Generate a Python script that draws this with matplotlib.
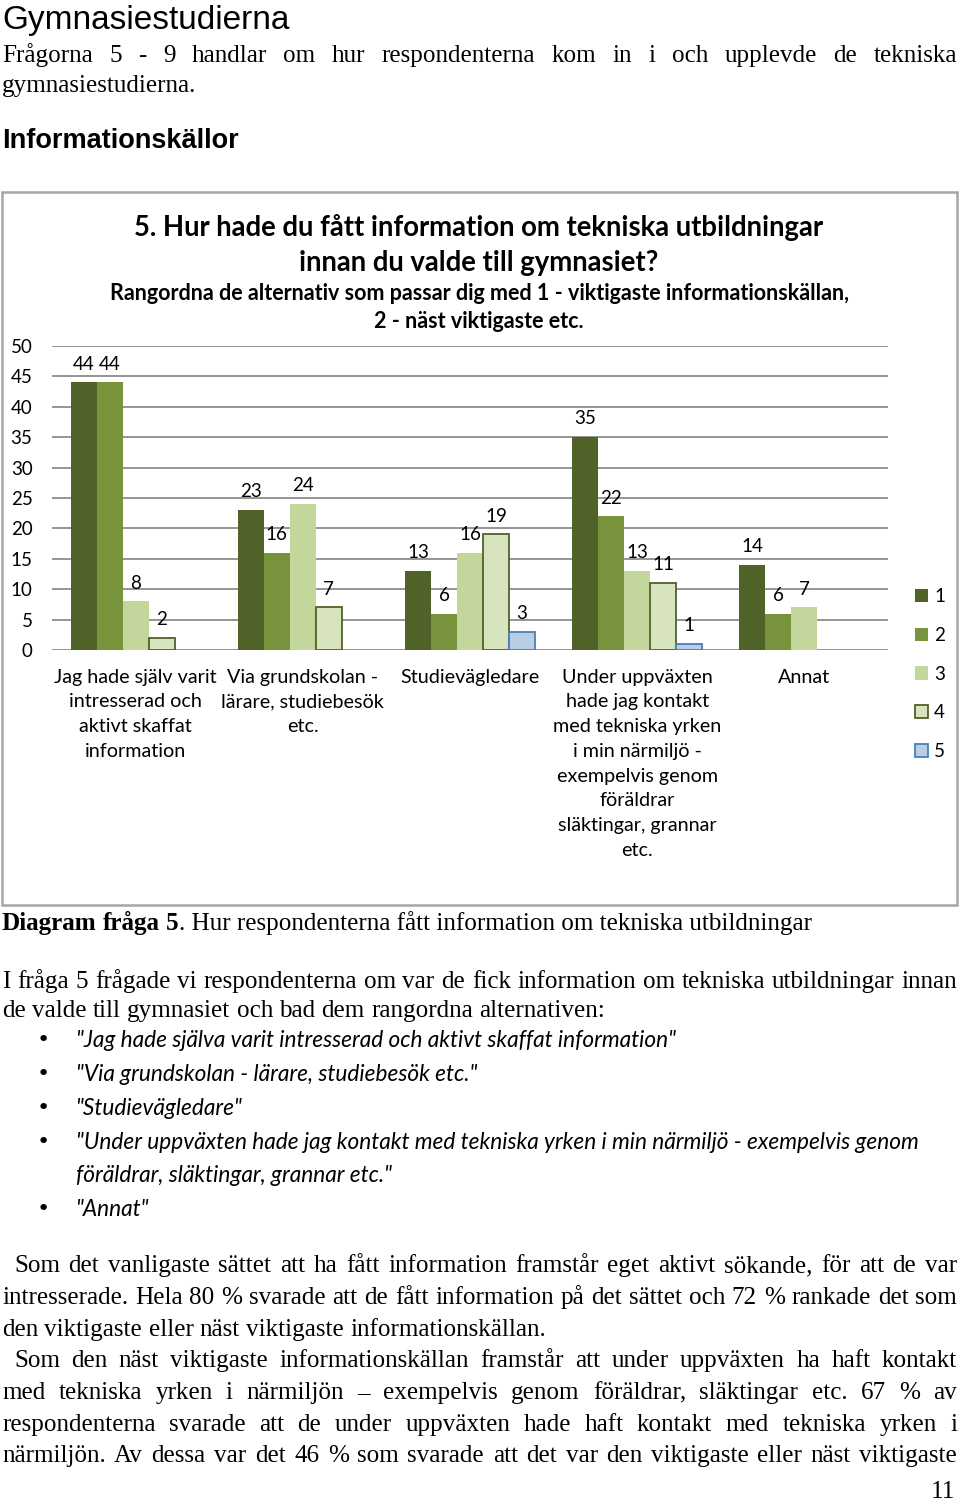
import math
import matplotlib
matplotlib.use("Agg")
import matplotlib.pyplot as plt
import numpy as np
from matplotlib.patches import Rectangle, Patch

# ---------------- data ----------------
categories = [
    "Jag hade själv varit\nintresserad och\naktivt skaffat\ninformation",
    "Via grundskolan -\nlärare, studiebesök\netc.",
    "Studievägledare",
    "Under uppväxten\nhade jag kontakt\nmed tekniska yrken\ni min närmiljö -\nexempelvis genom\nföräldrar\nsläktingar, grannar\netc.",
    "Annat",
]
series_names = ["1", "2", "3", "4", "5"]
rank1 = [44, 23, 13, 35, 14]
rank2 = [44, 16, 6, 22, 6]
rank3 = [8, 24, 16, 13, 7]
rank4 = [2, 7, 19, 11, np.nan]
rank5 = [np.nan, np.nan, 3, 1, np.nan]
yticks = [0, 5, 10, 15, 20, 25, 30, 35, 40, 45, 50]

colors = ["#4f6228", "#77933c", "#c3d69b", "#d7e4bd", "#b9cde5"]
edges = [None, None, None, "#4f6228", "#4a7ebb"]

W, H = 960, 1502
fig = plt.figure(figsize=(W / 100, H / 100), dpi=100)
renderer = fig.canvas.get_renderer()

SERIF = "Liberation Serif"
SANS = "Liberation Sans"
CAL = "Lato"


def fx(x):
    return x / W


def fy(y):
    return 1 - y / H


def twidth(s, **kw):
    t = fig.text(0, 0, s, **kw)
    w = t.get_window_extent(renderer).width
    t.remove()
    return w


def space_w(**kw):
    return twidth("x x", **kw) - twidth("xx", **kw)


def natural(text, **kw):
    words = text.split(" ")
    return sum(twidth(w, **kw) for w in words) + space_w(**kw) * (len(words) - 1)


def put_line(text, y, x0=2, x1=957, justify=False, **kw):
    words = text.split(" ")
    objs = [fig.text(0, fy(y), w, va="baseline", ha="left", **kw) for w in words]
    widths = [o.get_window_extent(renderer).width for o in objs]
    sp = space_w(**kw)
    if justify and len(words) > 1:
        gap = (x1 - x0 - sum(widths)) / (len(words) - 1)
    else:
        gap = sp
    x = x0
    for o, w in zip(objs, widths):
        o.set_x(fx(x))
        x += w + gap
    return x


# ---------------- body text ----------------
paras = [
    (["Frågorna 5 - 9 handlar om hur respondenterna kom in i och upplevde de tekniska",
      "gymnasiestudierna."], [62, 92], 2, [True, False]),
    (["I fråga 5 frågade vi respondenterna om var de fick information om tekniska utbildningar innan",
      "de valde till gymnasiet och bad dem rangordna alternativen:"], [988, 1017], 2, [True, False]),
    (["Som det vanligaste sättet att ha fått information framstår eget aktivt sökande, för att de var",
      "intresserade. Hela 80 % svarade att de fått information på det sättet och 72 % rankade det som",
      "den viktigaste eller näst viktigaste informationskällan."], [1272, 1304, 1336], 14, [True, True, False]),
    (["Som den näst viktigaste informationskällan framstår att under uppväxten ha haft kontakt",
      "med tekniska yrken i närmiljön – exempelvis genom föräldrar, släktingar etc. 67 % av",
      "respondenterna svarade att de under uppväxten hade haft kontakt med tekniska yrken i",
      "närmiljön. Av dessa var det 46 % som svarade att det var den viktigaste eller näst viktigaste"],
     [1367, 1399, 1431, 1462], 14, [True, True, True, True]),
]

base = 20.0
ratio = 1.0
for lines, ys, x0f, js in paras:
    for i, ln in enumerate(lines):
        x0 = x0f if i == 0 else 2
        nw = natural(ln, family=SERIF, fontsize=base)
        ratio = min(ratio, (957 - x0 - 4) / nw)
bsize = base * ratio

for lines, ys, x0f, js in paras:
    for i, (ln, y, j) in enumerate(zip(lines, ys, js)):
        x0 = x0f if i == 0 else 2
        put_line(ln, y, x0=x0, justify=j, family=SERIF, fontsize=bsize)

fig.text(fx(2), fy(29), "Gymnasiestudierna", family=SANS, fontsize=24, va="baseline", ha="left")
fig.text(fx(2), fy(148), "Informationskällor", family=SANS, fontsize=19.5, weight="bold",
         va="baseline", ha="left")

# caption
xe = put_line("Diagram fråga 5", 930, x0=2, family=SERIF, fontsize=bsize, weight="bold")
fig.text(fx(xe - space_w(family=SERIF, fontsize=bsize)), fy(930),
         ". Hur respondenterna fått information om tekniska utbildningar",
         family=SERIF, fontsize=bsize, va="baseline", ha="left")

# bullets
bullets = [
    ('"Jag hade själva varit intresserad och aktivt skaffat information"', 1047, True),
    ('"Via grundskolan - lärare, studiebesök etc."', 1081, True),
    ('"Studievägledare"', 1115, True),
    ('"Under uppväxten hade jag kontakt med tekniska yrken i min närmiljö - exempelvis genom', 1149, True),
    ('föräldrar, släktingar, grannar etc."', 1182, False),
    ('"Annat"', 1216, True),
]
for txt, y, dot in bullets:
    if dot:
        fig.text(fx(37), fy(y - 1), "•", family="DejaVu Sans", fontsize=16, va="baseline", ha="left")
    fig.text(fx(76), fy(y), txt, family=CAL, style="italic", fontsize=16.3, va="baseline", ha="left")

fig.text(fx(955), fy(1498), "11", family=SERIF, fontsize=bsize, va="baseline", ha="right")

# ---------------- chart ----------------
fig.patches.append(Rectangle((fx(2), fy(905)), fx(957) - fx(2), (905 - 192) / H,
                             transform=fig.transFigure, fill=False, edgecolor="#a6a6a6", lw=1.8))

fig.text(fx(479), fy(236), "5. Hur hade du fått information om tekniska utbildningar",
         family=CAL, weight="bold", fontsize=19.8, ha="center", va="baseline")
fig.text(fx(479), fy(271), "innan du valde till gymnasiet?",
         family=CAL, weight="bold", fontsize=19.8, ha="center", va="baseline")
fig.text(fx(479), fy(300), "Rangordna de alternativ som passar dig med 1 - viktigaste informationskällan,",
         family=CAL, weight="bold", fontsize=15.5, ha="center", va="baseline")
fig.text(fx(479), fy(328), "2 - näst viktigaste etc.",
         family=CAL, weight="bold", fontsize=15.5, ha="center", va="baseline")

ax = fig.add_axes([fx(52), fy(650), fx(888) - fx(52), (650 - 346) / H])
series = [rank1, rank2, rank3, rank4, rank5]
ncat = len(categories)
x = np.arange(ncat)
bw = 26 / 167.2
handles = []
for j, (vals, name) in enumerate(zip(series, series_names)):
    vals = np.array(vals, dtype=float)
    pos = x + (j - 2) * bw
    kw = dict(color=colors[j], width=bw, label=name)
    if edges[j]:
        kw.update(edgecolor=edges[j], linewidth=1.3)
    else:
        kw.update(linewidth=0)
    cont = ax.bar(pos, np.nan_to_num(vals), **kw)
    for patch, v in zip(cont.patches, vals):
        if np.isnan(v):
            patch.set_visible(False)
    labels = ["" if np.isnan(v) else f"{v:g}" for v in vals]
    ax.bar_label(cont, labels=labels, padding=7, family=CAL, fontsize=13.5)
    handles.append(Patch(facecolor=colors[j], edgecolor=edges[j] if edges[j] else colors[j],
                         linewidth=1.3 if edges[j] else 0, label=name))

ax.set_xlim(-0.5, ncat - 0.5)
ax.set_ylim(0, 50)
ax.set_yticks(yticks)
ax.set_yticklabels([str(t) for t in yticks], family=CAL, fontsize=13.5)
ax.set_xticks(x)
ax.set_xticklabels(categories, family=CAL, fontsize=14.2, linespacing=1.55, va="top")
ax.tick_params(axis="both", length=0)
ax.tick_params(axis="y", pad=14)
ax.tick_params(axis="x", pad=13.5)
ax.yaxis.grid(True, color="#8c8c8c", lw=1.3)
ax.set_axisbelow(True)
for s in ax.spines.values():
    s.set_visible(False)
ax.set_facecolor("none")

leg = ax.legend(handles=handles, loc="center left", bbox_to_anchor=(fx(907), fy(674)),
                bbox_transform=fig.transFigure,
                frameon=False, prop={"family": CAL, "size": 13.5}, handlelength=0.7, handleheight=0.7,
                handletextpad=0.35, labelspacing=1.15, borderaxespad=0)

fig.savefig("out.png", dpi=100)
